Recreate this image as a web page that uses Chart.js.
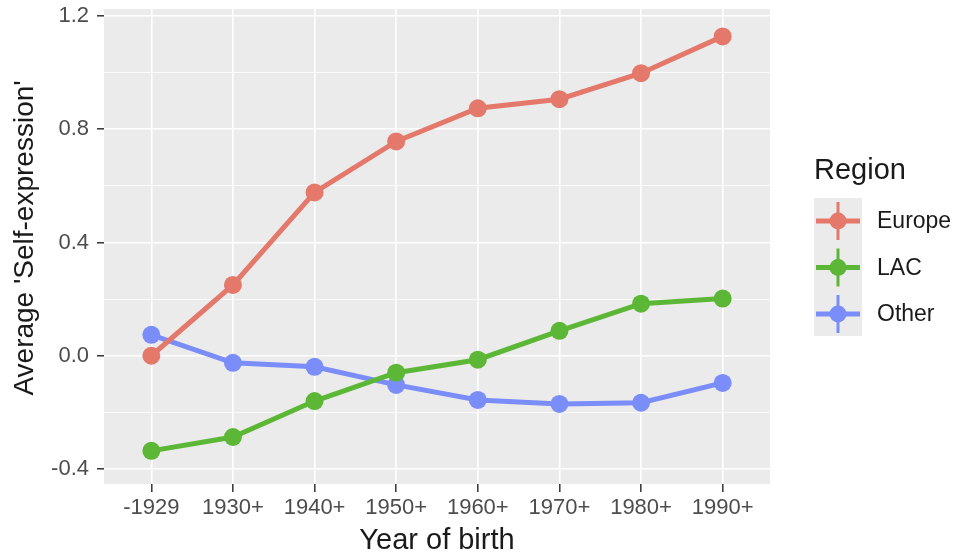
<!DOCTYPE html>
<html>
<head>
<meta charset="utf-8">
<script src="https://cdn.jsdelivr.net/npm/chart.js@4.4.1/dist/chart.umd.min.js"></script>
<style>
  html, body { margin: 0; padding: 0; background: #fff; }
  #wrap { width: 955px; height: 553px; }
</style>
</head>
<body>
<div id="wrap"><canvas id="chart" width="955" height="553"></canvas></div>
<script>
// Data
const cohorts = ['-1929', '1930+', '1940+', '1950+', '1960+', '1970+', '1980+', '1990+'];
const europe = [0.00, 0.25, 0.577, 0.757, 0.874, 0.906, 0.998, 1.128];
const lac = [-0.336, -0.287, -0.16, -0.06, -0.014, 0.088, 0.184, 0.202];
const other = [0.074, -0.025, -0.039, -0.103, -0.156, -0.17, -0.166, -0.096];
const yTicks = [-0.4, -0.2, 0.0, 0.2, 0.4, 0.6, 0.8, 1.0, 1.2];
const yMajor = [-0.4, 0.0, 0.4, 0.8, 1.2];

const regions = ['Europe', 'LAC', 'Other'];
const colors = ['#E3786B', '#5DB736', '#7A8DF8'];

const FONT = '"Liberation Sans", Arial, sans-serif';

function isMajor(v) {
    return yMajor.some(m => Math.abs(m - v) < 1e-6);
}

function toPoints(arr) {
    return arr.map((v, i) => ({ x: i, y: v }));
}

// ggplot-like grey panel
const panelBg = {
    id: 'panelBg',
    beforeDraw(chart) {
        const a = chart.chartArea;
        const ctx = chart.ctx;
        ctx.save();
        ctx.fillStyle = '#EBEBEB';
        ctx.fillRect(a.left, a.top, a.right - a.left, a.bottom - a.top);
        ctx.restore();
    }
};

// y axis title, placed by hand
const yTitle = {
    id: 'yTitle',
    afterDraw(chart) {
        const ctx = chart.ctx;
        ctx.save();
        ctx.translate(25, 238);
        ctx.rotate(-Math.PI / 2);
        ctx.fillStyle = '#1a1a1a';
        ctx.font = '28px ' + FONT;
        ctx.textAlign = 'center';
        ctx.textBaseline = 'middle';
        ctx.fillText("Average 'Self-expression'", 0, 0);
        ctx.restore();
    }
};

// legend on the right with title and grey key boxes
const sideLegend = {
    id: 'sideLegend',
    afterDraw(chart) {
        const ctx = chart.ctx;
        ctx.save();
        ctx.fillStyle = '#1a1a1a';
        ctx.font = '29px ' + FONT;
        ctx.textBaseline = 'middle';
        ctx.textAlign = 'left';
        ctx.fillText('Region', 814, 171);

        ctx.fillStyle = '#EBEBEB';
        ctx.fillRect(814, 198, 48, 138);

        regions.forEach((name, i) => {
            const cx = 838;
            const cy = 221 + i * 46.5;
            ctx.strokeStyle = colors[i];
            ctx.lineWidth = 5;
            ctx.beginPath();
            ctx.moveTo(cx - 22, cy);
            ctx.lineTo(cx + 22, cy);
            ctx.stroke();
            ctx.lineWidth = 3;
            ctx.beginPath();
            ctx.moveTo(cx, cy - 19);
            ctx.lineTo(cx, cy + 19);
            ctx.stroke();
            ctx.fillStyle = colors[i];
            ctx.beginPath();
            ctx.arc(cx, cy, 8.5, 0, Math.PI * 2);
            ctx.fill();

            ctx.fillStyle = '#1a1a1a';
            ctx.font = '23px ' + FONT;
            ctx.fillText(name, 877, cy + 1);
        });
        ctx.restore();
    }
};

const datasets = [europe, lac, other].map((vals, i) => ({
    label: regions[i],
    data: toPoints(vals),
    borderColor: colors[i],
    backgroundColor: colors[i],
    borderWidth: 5,
    pointRadius: 9,
    pointHoverRadius: 9,
    pointBorderWidth: 0,
    tension: 0
}));

new Chart(document.getElementById('chart'), {
    type: 'line',
    data: { datasets: datasets },
    plugins: [panelBg, yTitle, sideLegend],
    options: {
        responsive: false,
        animation: false,
        layout: { padding: { left: 0, top: 0, right: 185, bottom: 0 } },
        plugins: {
            legend: { display: false },
            tooltip: { enabled: false }
        },
        scales: {
            x: {
                type: 'linear',
                min: -0.58,
                max: 7.58,
                afterBuildTicks(scale) {
                    scale.ticks = cohorts.map((c, i) => ({ value: i }));
                },
                afterFit(scale) {
                    scale.height = 69;
                    scale.paddingLeft = 0;
                    scale.paddingRight = 0;
                },
                border: { display: false },
                grid: {
                    color: '#FFFFFF',
                    lineWidth: 1.6,
                    drawTicks: true,
                    tickLength: 8,
                    tickColor: '#333333',
                    tickWidth: 1.5
                },
                ticks: {
                    autoSkip: false,
                    maxRotation: 0,
                    padding: 3,
                    color: '#4D4D4D',
                    font: { family: FONT, size: 22 },
                    callback: (v) => cohorts[v]
                },
                title: {
                    display: true,
                    text: 'Year of birth',
                    color: '#1a1a1a',
                    font: { family: FONT, size: 29 },
                    padding: { top: 0, bottom: -5 }
                }
            },
            y: {
                min: -0.453,
                max: 1.2247,
                afterBuildTicks(scale) {
                    scale.ticks = yTicks.map(v => ({ value: v }));
                },
                afterFit(scale) {
                    scale.width = 104;
                    scale.paddingTop = 0;
                    scale.paddingBottom = 0;
                },
                border: { display: false },
                grid: {
                    color: '#FFFFFF',
                    lineWidth: (c) => isMajor(c.tick.value) ? 1.6 : 0.8,
                    drawTicks: true,
                    tickLength: 7,
                    tickColor: (c) => isMajor(c.tick.value) ? '#333333' : 'rgba(0,0,0,0)',
                    tickWidth: 1.5
                },
                ticks: {
                    padding: 8,
                    color: '#4D4D4D',
                    font: { family: FONT, size: 22 },
                    callback: (v) => isMajor(v) ? v.toFixed(1) : ''
                },
                title: { display: false }
            }
        }
    }
});
</script>
</body>
</html>
